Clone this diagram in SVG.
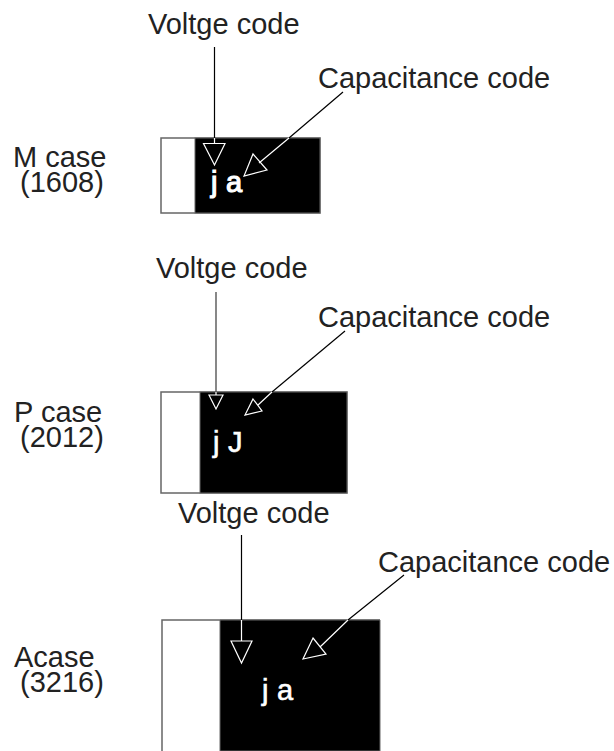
<svg xmlns="http://www.w3.org/2000/svg" width="614" height="751" viewBox="0 0 614 751">
<style>
text{font-family:"Liberation Sans",Arial,sans-serif;font-size:29px;fill:#222}
.code{font-size:29px;fill:#fff;stroke:#fff;stroke-width:.6}
.heavy{stroke-width:1.2}
.case{fill:#fff;stroke:#666;stroke-width:1.5}
.body{fill:#000;stroke:#666;stroke-width:1}
.k{fill:none;stroke:#000;stroke-width:1.2}
.g{fill:none;stroke:#555;stroke-width:1.4}
.w{fill:none;stroke:#fff;stroke-width:1.2}
</style>
<rect width="614" height="751" fill="#fff"/>
<g id="m-case">
<rect class="case" x="161" y="138" width="159" height="75"/>
<rect class="body" x="195" y="138" width="125" height="75"/>
<text x="13" y="167">M case</text>
<text x="20" y="192">(1608)</text>
<text class="code heavy" x="211" y="192">j</text>
<text class="code heavy" x="226" y="192">a</text>
<text x="148" y="34">Voltge code</text>
<text x="318" y="88">Capacitance code</text>
</g>
<g id="p-case">
<rect class="case" x="161" y="392" width="186" height="101"/>
<rect class="body" x="200" y="392" width="147" height="101"/>
<text x="14" y="422">P case</text>
<text x="20" y="447">(2012)</text>
<text class="code" x="213" y="452">j</text>
<text class="code" x="228" y="452">J</text>
<text x="156" y="278">Voltge code</text>
<text x="318" y="327">Capacitance code</text>
</g>
<g id="a-case">
<path class="case" d="M162 751V620H380"/>
<path class="body" d="M220 751V620H380V751Z"/>
<text x="14" y="667">Acase</text>
<text x="20" y="692">(3216)</text>
<text class="code" x="262" y="700">j</text>
<text class="code" x="277" y="700">a</text>
<text x="178" y="523">Voltge code</text>
<text x="378" y="572">Capacitance code</text>
</g>
<g id="connectors">
<path class="k" d="M214.5 47V138M343 92L289 138"/>
<path class="w" d="M214.5 138V143M289 138L259 163M203.5 143.5H225L214.5 165ZM253 154L267 170L244 176Z"/>
<path class="g" d="M216 292V392"/>
<path class="k" d="M345 331L272 392"/>
<path class="w" d="M216 392V395M272 392L258 405M209 395H223L216 409ZM253 399L262 411L245 415Z"/>
<path class="k" d="M241.5 535V620M404 575L348 620"/>
<path class="w" d="M241.5 620V641M348 620L320 647M231 641H252L241.5 663ZM313 638L326 654L303 659Z"/>
</g>
</svg>
